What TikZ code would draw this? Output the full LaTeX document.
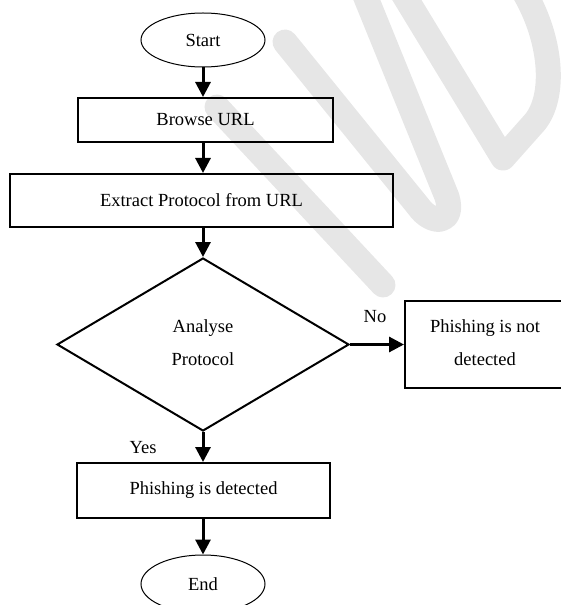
\documentclass[tikz,border=0pt]{standalone}
\usepackage{fontspec}
\setmainfont{Liberation Serif}
\usetikzlibrary{arrows.meta,shapes.geometric}
\definecolor{wmgray}{RGB}{230,230,230}
% two centred lines, 33bp apart, lifted a little above the centre
\newcommand{\twolines}[3]{\raisebox{#3}{\begin{tabular}{@{}c@{}}#1\\[11bp]#2\end{tabular}}}
\begin{document}
\begin{tikzpicture}[x=1bp,y=-1bp,
  every node/.style={font=\fontsize{18.5bp}{22bp}\selectfont, inner sep=0pt},
  terminal/.style={ellipse, draw, line width=1bp, minimum width=124bp},
  procbox/.style={rectangle, draw, line width=2bp},
  decision/.style={diamond, draw, line width=2bp,
    minimum width=292bp, minimum height=173bp},
  flow/.style={line width=3bp, -{Triangle[length=15bp,width=15bp]}},
  wm/.style={draw=wmgray, line width=25bp, line cap=round, line join=round},
  edgelabel/.style={anchor=center}
]
\path[use as bounding box] (0,0) rectangle (561,605);

% background watermark strokes
\draw[wm] (217,107) -- (383,285);
\draw[wm] (285,42) -- (418,206) .. controls (432,226) and (455,224) .. (447,197) -- (362,-12);
\draw[wm] (402,-8) -- (503,158) -- (535,122) .. controls (556,96) and (552,40) .. (524,-8);

% flowchart nodes
\node[terminal, minimum height=54bp] (start) at (203,40) {Start};
\node[procbox, minimum width=255bp, minimum height=44bp] (browse) at (205.5,120) {Browse URL};
\node[procbox, minimum width=383bp, minimum height=53bp] (extract) at (201.5,200.5) {\raisebox{2bp}{Extract Protocol from URL}};
\node[decision] (analyse) at (203,344.5) {\twolines{Analyse}{Protocol}{4bp}};
\node[procbox, minimum width=160bp, minimum height=87bp] (notdet) at (485,344.5) {\twolines{Phishing is not}{detected}{3bp}};
\node[procbox, minimum width=253bp, minimum height=55bp] (detected) at (203.5,490.5) {\raisebox{3bp}{Phishing is detected}};
\node[terminal, minimum height=58bp] (finish) at (203,584) {End};

% connectors
\draw[flow] (start) -- (start |- browse.north);
\draw[flow] (start |- browse.south) -- (start |- extract.north);
\draw[flow] (start |- extract.south) -- (analyse.north);
\draw[flow] (analyse.east) -- (notdet.west |- analyse.east);
\draw[flow] (analyse.south) -- (analyse.south |- detected.north);
\draw[flow] (analyse.south |- detected.south) -- (finish.north);

% branch labels
\node[edgelabel] (lblno) at (375,317) {No};
\node[edgelabel] (lblyes) at (143,448) {Yes};
\end{tikzpicture}
\end{document}
